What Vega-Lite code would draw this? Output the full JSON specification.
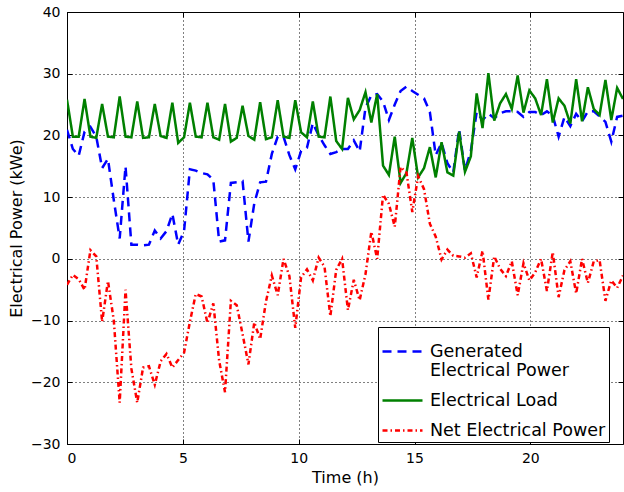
{
  "$schema": "https://vega.github.io/schema/vega-lite/v6.json",
  "width": 556,
  "height": 432,
  "autosize": "none",
  "padding": {"left": 67, "top": 12, "right": 1, "bottom": 48},
  "background": "white",
  "config": {
    "view": {"stroke": "black", "strokeWidth": 1},
    "font": "DejaVu Sans",
    "axis": {
      "domain": false,
      "grid": true,
      "gridColor": "black",
      "gridDash": [1, 3],
      "gridOpacity": 1,
      "gridWidth": 1,
      "tickColor": "black",
      "tickSize": -5,
      "tickWidth": 1,
      "labelFont": "DejaVu Sans",
      "labelFontSize": 14,
      "labelColor": "black",
      "titleFont": "DejaVu Sans",
      "titleFontSize": 16,
      "titleFontWeight": "normal",
      "titleColor": "black"
    }
  },
  "resolve": {"axis": {"x": "independent", "y": "independent"}},
  "data": {
    "values": [
      {"t": 0, "gen": 20.9, "load": 25.8, "net": -4.2},
      {"t": 0.253, "gen": 17.8, "load": 19.8, "net": -2.6},
      {"t": 0.505, "gen": 16.7, "load": 19.8, "net": -3.3},
      {"t": 0.758, "gen": 20.6, "load": 25.9, "net": -5.0},
      {"t": 1.011, "gen": 21.4, "load": 19.8, "net": 1.4},
      {"t": 1.263, "gen": 19.8, "load": 19.6, "net": 0.4},
      {"t": 1.516, "gen": 14.7, "load": 25.1, "net": -10.2},
      {"t": 1.768, "gen": 16.2, "load": 19.8, "net": -3.6},
      {"t": 2.021, "gen": 9.5, "load": 19.7, "net": -10.0},
      {"t": 2.274, "gen": 3.3, "load": 26.3, "net": -23.3},
      {"t": 2.526, "gen": 15.0, "load": 19.8, "net": -5.0},
      {"t": 2.779, "gen": 2.3, "load": 19.7, "net": -17.8},
      {"t": 3.032, "gen": 2.3, "load": 25.5, "net": -23.3},
      {"t": 3.284, "gen": 2.2, "load": 19.6, "net": -17.6},
      {"t": 3.537, "gen": 2.3, "load": 19.7, "net": -17.4},
      {"t": 3.789, "gen": 4.6, "load": 25.1, "net": -20.4},
      {"t": 4.042, "gen": 3.3, "load": 19.9, "net": -16.6},
      {"t": 4.295, "gen": 4.5, "load": 19.6, "net": -15.4},
      {"t": 4.547, "gen": 7.3, "load": 25.3, "net": -17.6},
      {"t": 4.8, "gen": 2.3, "load": 18.8, "net": -16.4},
      {"t": 5.053, "gen": 4.5, "load": 19.7, "net": -15.2},
      {"t": 5.305, "gen": 14.5, "load": 25.3, "net": -10.2},
      {"t": 5.558, "gen": 14.3, "load": 19.8, "net": -5.7},
      {"t": 5.811, "gen": 13.9, "load": 19.7, "net": -6.1},
      {"t": 6.063, "gen": 13.7, "load": 25.3, "net": -10.4},
      {"t": 6.316, "gen": 12.8, "load": 19.7, "net": -7.2},
      {"t": 6.568, "gen": 2.8, "load": 19.3, "net": -16.5},
      {"t": 6.821, "gen": 3.0, "load": 25.1, "net": -21.6},
      {"t": 7.074, "gen": 12.3, "load": 19.0, "net": -6.8},
      {"t": 7.326, "gen": 12.4, "load": 19.6, "net": -7.5},
      {"t": 7.579, "gen": 12.6, "load": 24.8, "net": -12.2},
      {"t": 7.832, "gen": 2.8, "load": 19.9, "net": -17.1},
      {"t": 8.084, "gen": 9.0, "load": 19.3, "net": -10.3},
      {"t": 8.337, "gen": 12.4, "load": 25.4, "net": -13.0},
      {"t": 8.589, "gen": 12.5, "load": 19.4, "net": -6.9},
      {"t": 8.842, "gen": 17.0, "load": 19.7, "net": -2.7},
      {"t": 9.095, "gen": 19.8, "load": 25.7, "net": -5.9},
      {"t": 9.347, "gen": 19.8, "load": 19.8, "net": 0.0},
      {"t": 9.6, "gen": 16.8, "load": 19.6, "net": -2.8},
      {"t": 9.853, "gen": 14.5, "load": 25.7, "net": -11.2},
      {"t": 10.105, "gen": 17.5, "load": 20.5, "net": -3.0},
      {"t": 10.358, "gen": 18.0, "load": 19.7, "net": -1.7},
      {"t": 10.611, "gen": 22.0, "load": 25.5, "net": -3.5},
      {"t": 10.863, "gen": 20.0, "load": 19.8, "net": 0.2},
      {"t": 11.116, "gen": 18.4, "load": 19.7, "net": -1.3},
      {"t": 11.368, "gen": 17.0, "load": 26.3, "net": -9.3},
      {"t": 11.621, "gen": 17.3, "load": 19.1, "net": -1.8},
      {"t": 11.874, "gen": 17.8, "load": 17.8, "net": 0.0},
      {"t": 12.126, "gen": 17.8, "load": 26.1, "net": -8.3},
      {"t": 12.379, "gen": 19.2, "load": 22.6, "net": -3.4},
      {"t": 12.632, "gen": 17.4, "load": 24.1, "net": -6.7},
      {"t": 12.884, "gen": 24.5, "load": 27.0, "net": -2.5},
      {"t": 13.137, "gen": 26.5, "load": 22.1, "net": 4.4},
      {"t": 13.389, "gen": 26.7, "load": 26.7, "net": 0.0},
      {"t": 13.642, "gen": 25.5, "load": 15.1, "net": 10.4},
      {"t": 13.895, "gen": 22.5, "load": 13.6, "net": 8.9},
      {"t": 14.147, "gen": 25.0, "load": 19.8, "net": 5.2},
      {"t": 14.4, "gen": 27.2, "load": 12.3, "net": 14.9},
      {"t": 14.653, "gen": 27.9, "load": 13.9, "net": 14.0},
      {"t": 14.905, "gen": 27.2, "load": 19.6, "net": 7.6},
      {"t": 15.158, "gen": 26.6, "load": 13.2, "net": 13.4},
      {"t": 15.411, "gen": 26.0, "load": 14.7, "net": 11.3},
      {"t": 15.663, "gen": 23.8, "load": 18.1, "net": 5.7},
      {"t": 15.916, "gen": 16.8, "load": 13.2, "net": 3.6},
      {"t": 16.168, "gen": 18.8, "load": 18.9, "net": -0.1},
      {"t": 16.421, "gen": 15.5, "load": 14.0, "net": 1.5},
      {"t": 16.674, "gen": 14.0, "load": 13.5, "net": 0.5},
      {"t": 16.926, "gen": 21.0, "load": 20.6, "net": 0.4},
      {"t": 17.179, "gen": 14.3, "load": 14.1, "net": 0.2},
      {"t": 17.432, "gen": 17.5, "load": 16.6, "net": 0.9},
      {"t": 17.684, "gen": 23.8, "load": 26.8, "net": -3.0},
      {"t": 17.937, "gen": 22.5, "load": 21.2, "net": 1.3},
      {"t": 18.189, "gen": 23.5, "load": 30.1, "net": -6.6},
      {"t": 18.442, "gen": 22.8, "load": 22.4, "net": 0.4},
      {"t": 18.695, "gen": 23.6, "load": 25.2, "net": -1.6},
      {"t": 18.947, "gen": 23.9, "load": 26.7, "net": -2.8},
      {"t": 19.2, "gen": 23.9, "load": 24.3, "net": -0.4},
      {"t": 19.453, "gen": 23.8, "load": 29.7, "net": -5.9},
      {"t": 19.705, "gen": 23.0, "load": 23.7, "net": -0.7},
      {"t": 19.958, "gen": 23.8, "load": 27.3, "net": -3.5},
      {"t": 20.211, "gen": 23.8, "load": 26.0, "net": -2.2},
      {"t": 20.463, "gen": 23.3, "load": 23.3, "net": 0.0},
      {"t": 20.716, "gen": 23.9, "load": 29.1, "net": -5.2},
      {"t": 20.968, "gen": 23.2, "load": 22.1, "net": 1.1},
      {"t": 21.221, "gen": 19.8, "load": 26.0, "net": -6.2},
      {"t": 21.474, "gen": 23.0, "load": 24.8, "net": -1.8},
      {"t": 21.726, "gen": 21.5, "load": 21.9, "net": -0.4},
      {"t": 21.979, "gen": 23.5, "load": 29.1, "net": -5.6},
      {"t": 22.232, "gen": 22.3, "load": 22.3, "net": 0.0},
      {"t": 22.484, "gen": 23.9, "load": 27.8, "net": -3.9},
      {"t": 22.737, "gen": 23.9, "load": 24.3, "net": -0.4},
      {"t": 22.989, "gen": 23.1, "load": 23.3, "net": -0.2},
      {"t": 23.242, "gen": 22.2, "load": 29.0, "net": -6.8},
      {"t": 23.495, "gen": 19.0, "load": 22.5, "net": -3.5},
      {"t": 23.747, "gen": 23.0, "load": 27.7, "net": -4.7},
      {"t": 24, "gen": 23.2, "load": 25.9, "net": -2.7}
    ]
  },
  "transform": [{"fold": ["gen", "load", "net"], "as": ["series", "value"]}],
  "layer": [
    {
      "mark": {"type": "line", "strokeWidth": 2.5, "clip": true},
      "encoding": {
        "x": {
          "field": "t", "type": "quantitative",
          "scale": {"domain": [0, 24], "nice": false, "zero": false},
          "axis": {"values": [0, 5, 10, 15, 20], "title": "Time (h)", "labelPadding": 12, "titlePadding": 4}
        },
        "y": {
          "field": "value", "type": "quantitative",
          "scale": {"domain": [-30, 40], "nice": false},
          "axis": {"values": [-30, -20, -10, 0, 10, 20, 30, 40], "title": "Electrical Power (kWe)", "labelPadding": 12, "titlePadding": 6}
        },
        "color": {
          "field": "series", "type": "nominal",
          "scale": {"domain": ["gen", "load", "net"], "range": ["#0000ff", "#008000", "#ff0000"]},
          "legend": {
            "title": null,
            "orient": "none",
            "legendX": 311,
            "legendY": 315,
            "direction": "vertical",
            "fillColor": "white",
            "strokeColor": "black",
            "cornerRadius": 0,
            "padding": 3,
            "symbolType": "M-1,0L1,0",
            "symbolSize": 1600,
            "symbolStrokeWidth": 2.5,
            "labelFont": "DejaVu Sans",
            "labelFontSize": 17.5,
            "labelColor": "black",
            "labelOffset": 6,
            "rowPadding": -4,
            "labelLimit": 300,
            "labelExpr": "datum.value == 'gen' ? ['Generated', 'Electrical Power'] : datum.value == 'load' ? 'Electrical Load' : 'Net Electrical Power'",
            "encode": {"labels": {"update": {"lineHeight": {"value": 19}}}}
          }
        },
        "strokeDash": {
          "field": "series", "type": "nominal",
          "scale": {"domain": ["gen", "load", "net"], "range": [[9, 6], [1, 0], [5, 3, 1.5, 3]]},
          "legend": {
            "title": null,
            "orient": "none",
            "legendX": 311,
            "legendY": 315,
            "direction": "vertical",
            "fillColor": "white",
            "strokeColor": "black",
            "cornerRadius": 0,
            "padding": 3,
            "symbolType": "M-1,0L1,0",
            "symbolSize": 1600,
            "symbolStrokeWidth": 2.5,
            "labelFont": "DejaVu Sans",
            "labelFontSize": 17.5,
            "labelColor": "black",
            "labelOffset": 6,
            "rowPadding": -4,
            "labelLimit": 300,
            "labelExpr": "datum.value == 'gen' ? ['Generated', 'Electrical Power'] : datum.value == 'load' ? 'Electrical Load' : 'Net Electrical Power'",
            "encode": {"labels": {"update": {"lineHeight": {"value": 19}}}}
          }
        }
      }
    },
    {
      "mark": {"type": "line", "opacity": 0},
      "encoding": {
        "x": {
          "field": "t", "type": "quantitative",
          "axis": {"orient": "top", "values": [0, 5, 10, 15, 20], "labels": false, "grid": false, "title": null}
        },
        "y": {
          "field": "value", "type": "quantitative",
          "axis": {"orient": "right", "values": [-30, -20, -10, 0, 10, 20, 30, 40], "labels": false, "grid": false, "title": null}
        },
        "detail": {"field": "series"}
      }
    }
  ]
}
